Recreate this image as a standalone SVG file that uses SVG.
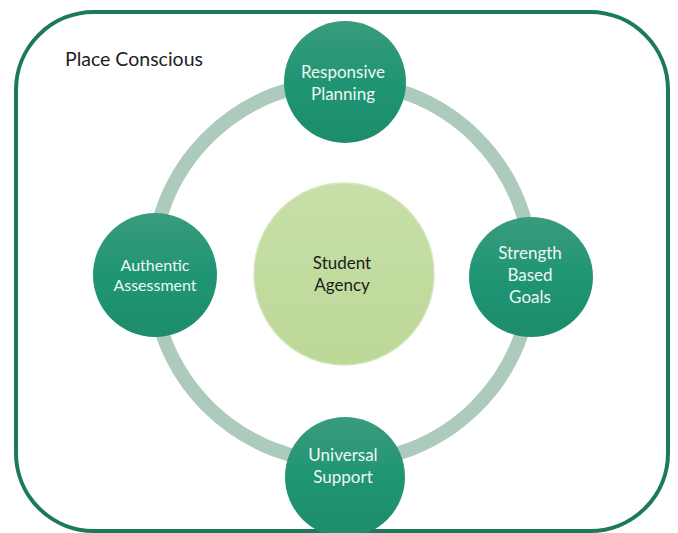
<svg xmlns="http://www.w3.org/2000/svg" width="678" height="533" viewBox="0 0 678 533">
  <defs>
    <linearGradient id="gNode" x1="0" y1="0" x2="0" y2="1">
      <stop offset="0" stop-color="#3a9b7e"/>
      <stop offset="0.5" stop-color="#1f9574"/>
      <stop offset="1" stop-color="#1d8c6b"/>
    </linearGradient>
    <linearGradient id="gCenter" x1="0" y1="0" x2="0" y2="1">
      <stop offset="0" stop-color="#c8dfa8"/>
      <stop offset="1" stop-color="#bcd897"/>
    </linearGradient>
  </defs>
  <style>
    .frame { fill: #ffffff; stroke: #1b7a59; stroke-width: 4; }
    .ring { fill: none; stroke: #accbbd; stroke-width: 14; }
    .node { fill: url(#gNode); }
    .center { fill: url(#gCenter); stroke: #d4e6bc; stroke-width: 1.5; }
    .lbl { font-family: Lato, "Open Sans", "Liberation Sans", sans-serif; font-size: 17px; fill: #eef7f2; text-anchor: middle; }
    .dark { fill: #1c1c1c; }
    .title { font-family: Lato, "Open Sans", "Liberation Sans", sans-serif; font-size: 19.5px; fill: #222222; }
  </style>
  <rect width="678" height="533" fill="#ffffff"/>
  <g id="place-conscious">
    <rect class="frame" x="16" y="12" width="652" height="519" rx="78" ry="78"/>
    <text class="title" x="65" y="66">Place Conscious</text>
  </g>
  <g id="connectors">
    <circle class="ring" cx="342" cy="272" r="190"/>
  </g>
  <g id="student-agency">
    <ellipse class="center" cx="344" cy="274" rx="90" ry="91"/>
    <text class="lbl dark" x="342" y="269">Student</text>
    <text class="lbl dark" x="342" y="291">Agency</text>
  </g>
  <g id="responsive-planning">
    <circle class="node" cx="345" cy="82" r="61"/>
    <text class="lbl" x="343" y="78">Responsive</text>
    <text class="lbl" x="343" y="100">Planning</text>
  </g>
  <g id="authentic-assessment">
    <ellipse class="node" cx="155" cy="275" rx="62" ry="62"/>
    <text class="lbl" x="155" y="271" style="font-size:16px">Authentic</text>
    <text class="lbl" x="155" y="291" style="font-size:16px">Assessment</text>
  </g>
  <g id="strength-based-goals">
    <ellipse class="node" cx="531" cy="277" rx="62" ry="60"/>
    <text class="lbl" x="530" y="259">Strength</text>
    <text class="lbl" x="530" y="281">Based</text>
    <text class="lbl" x="530" y="303">Goals</text>
  </g>
  <g id="universal-support">
    <circle class="node" cx="345" cy="477" r="60"/>
    <text class="lbl" x="343" y="461">Universal</text>
    <text class="lbl" x="343" y="483">Support</text>
  </g>
</svg>
